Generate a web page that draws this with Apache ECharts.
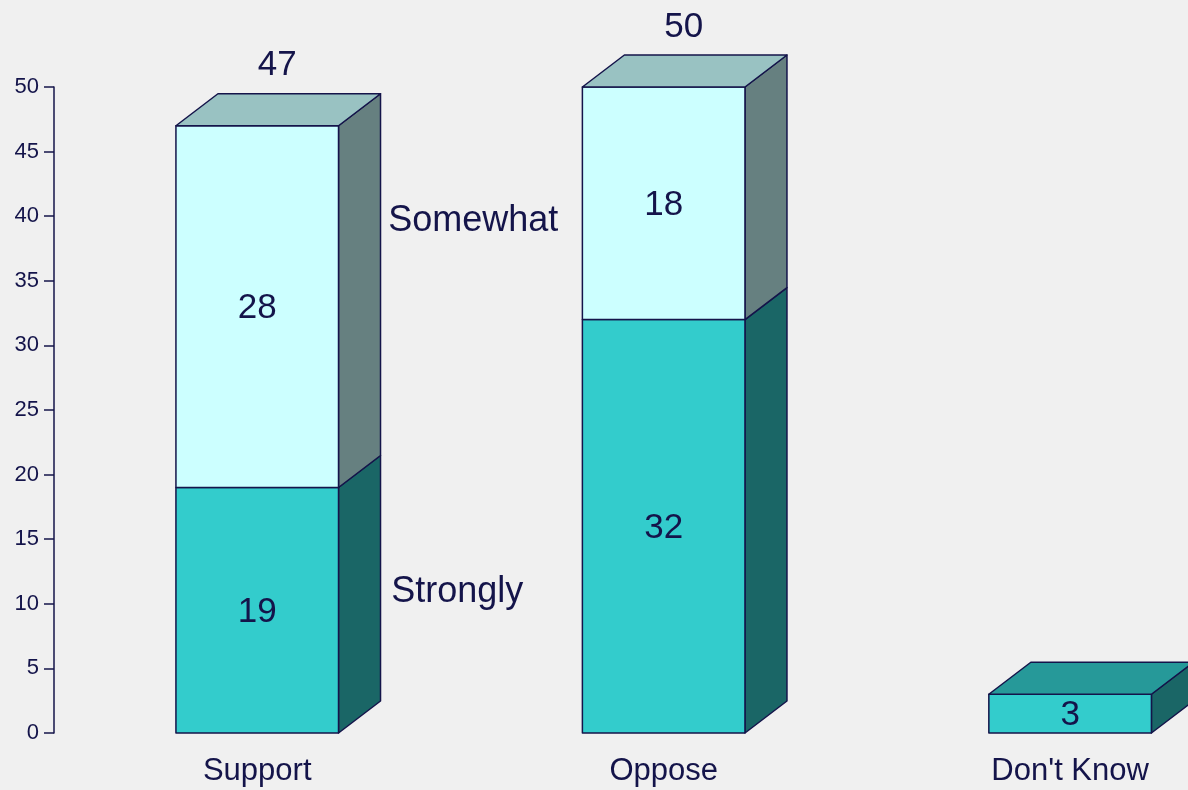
<!DOCTYPE html>
<html>
<head>
<meta charset="utf-8">
<script src="https://cdn.jsdelivr.net/npm/echarts@6/dist/echarts.min.js"></script>
<style>
  html, body { margin: 0; padding: 0; background: #F0F0F0; }
  #chart { width: 1188px; height: 790px; }
</style>
</head>
<body>
<div id="chart"></div>
<script>
// 数据
const categories = ['Support', 'Oppose', "Don't Know"];
const strongly = [19, 32, 3];
const somewhat = [28, 18, 0];
const totals = [47, 50, null];
const yTicks = [0, 5, 10, 15, 20, 25, 30, 35, 40, 45, 50];

const ink = '#14144a';
const fontFam = 'Arial, "Liberation Sans", sans-serif';
const depthX = 42, depthY = -32;

// 颜色: 正面 / 侧面 / 顶面
const palette = {
  strongly: { front: '#33CCCC', side: '#1A6666', top: '#269999' },
  somewhat: { front: '#CCFFFF', side: '#668080', top: '#99C2C2' }
};

const chart = echarts.init(document.getElementById('chart'));

function boxItem(colors) {
  return function (params, api) {
    const idx = api.value(0);
    const base = api.value(1);
    const val = api.value(2);
    if (!val) return null;
    const p0 = api.coord([idx, base]);
    const p1 = api.coord([idx, base + val]);
    const w = api.size([1, 0])[0] * 0.4;
    const x0 = p0[0] - w / 2, x1 = p0[0] + w / 2;
    const yb = p0[1], yt = p1[1];
    const line = { stroke: ink, lineWidth: 1.5, lineJoin: 'round' };
    const children = [
      { type: 'polygon', shape: { points: [[x1, yb], [x1 + depthX, yb + depthY], [x1 + depthX, yt + depthY], [x1, yt]] },
        style: Object.assign({ fill: colors.side }, line) },
      { type: 'rect', shape: { x: x0, y: yt, width: w, height: yb - yt },
        style: Object.assign({ fill: colors.front }, line) }
    ];
    const showTop = api.value(3);
    if (showTop) {
      children.push({ type: 'polygon', shape: { points: [[x0, yt], [x0 + depthX, yt + depthY], [x1 + depthX, yt + depthY], [x1, yt]] },
        style: Object.assign({ fill: colors.top }, line) });
    }
    children.push({ type: 'text', style: { text: String(val), x: p0[0], y: (yb + yt) / 2 + 2,
      align: 'center', verticalAlign: 'middle', font: '35px ' + fontFam, fill: ink } });
    const tot = api.value(4);
    if (showTop && tot) {
      children.push({ type: 'text', style: { text: String(tot), x: p0[0] + depthX / 2 - 1, y: yt + depthY - 28,
        align: 'center', verticalAlign: 'middle', font: '35px ' + fontFam, fill: ink } });
    }
    return { type: 'group', children: children };
  };
}

const strData = categories.map((c, i) => [i, 0, strongly[i], somewhat[i] ? 0 : 1, totals[i]]);
const somData = categories.map((c, i) => [i, strongly[i], somewhat[i], 1, totals[i]]);

const option = {
  backgroundColor: '#F0F0F0',
  animation: false,
  grid: { left: 54, top: 87, bottom: 57, right: 0 },
  xAxis: {
    type: 'value',
    min: -0.5, max: 2.29,
    axisLine: { show: false },
    axisTick: { show: false },
    splitLine: { show: false },
    axisLabel: { customValues: [0, 1, 2], margin: 23, fontSize: 31, color: ink, fontFamily: fontFam,
      formatter: v => categories[Math.round(v)] || '' }
  },
  yAxis: {
    type: 'value',
    min: 0, max: 50, interval: 5,
    axisLine: { show: true, onZero: false, lineStyle: { color: ink, width: 1.5 } },
    axisTick: { show: true, length: 10, lineStyle: { color: ink, width: 1.5 } },
    splitLine: { show: false },
    axisLabel: { margin: 15, fontSize: 22, color: ink, fontFamily: fontFam,
      formatter: v => yTicks.indexOf(v) >= 0 ? String(v) : '' }
  },
  series: [
    { name: 'Strongly', type: 'custom', renderItem: boxItem(palette.strongly), data: strData,
      encode: { x: 0, y: 2 }, clip: false, z: 2 },
    { name: 'Somewhat', type: 'custom', renderItem: boxItem(palette.somewhat), data: somData,
      encode: { x: 0, y: 2 }, clip: false, z: 3 }
  ]
};
chart.setOption(option);

// 系列标注
const pSom = chart.convertToPixel({ gridIndex: 0 }, [0, 40]);
const pStr = chart.convertToPixel({ gridIndex: 0 }, [0, 11]);
chart.setOption({
  graphic: [
    { type: 'text', x: pSom[0] + 131, y: pSom[1] + 5, style: { text: 'Somewhat', fill: ink,
      font: '36px ' + fontFam, verticalAlign: 'middle' } },
    { type: 'text', x: pStr[0] + 134, y: pStr[1] + 1, style: { text: 'Strongly', fill: ink,
      font: '36px ' + fontFam, verticalAlign: 'middle' } }
  ]
});
</script>
</body>
</html>
